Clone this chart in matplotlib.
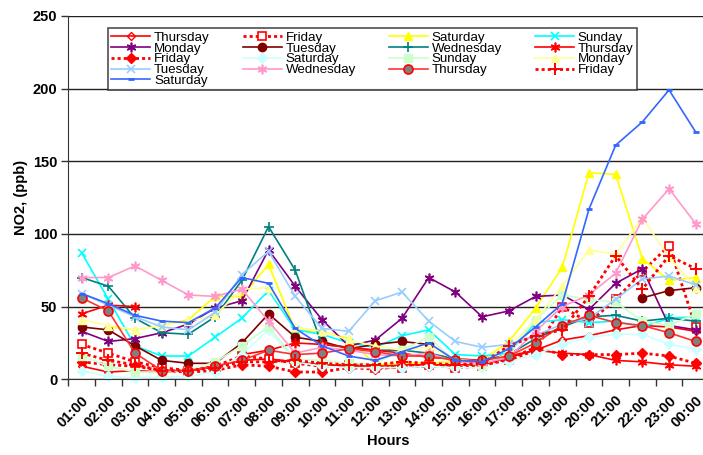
import numpy as np
import matplotlib
matplotlib.use("Agg")
import matplotlib.pyplot as plt
from matplotlib.ticker import FixedLocator

plt.rcParams['font.family'] = ['Liberation Sans', 'DejaVu Sans']

nan = np.nan
hours = ["01:00", "02:00", "03:00", "04:00", "05:00", "06:00", "07:00", "08:00",
         "09:00", "10:00", "11:00", "12:00", "13:00", "14:00", "15:00", "16:00",
         "17:00", "18:00", "19:00", "20:00", "21:00", "22:00", "23:00", "00:00"]

# hourly NO2 (ppb), one list per day
thu1 = [9, 5, 6, 5, 6, 9, 13, 14, 12, 10, 9, 9, 10, 10, 10, 10, 15, 20, 27, 30, 34, 37, 36, 33]
fri1 = [24, 18, 12, 8, 6, 9, 16, 14, 11, 9, 10, 8, 8, 10, 8, 9, 13, 20, 50, 39, 55, 74, 92, 36]
sat1 = [nan, 36, 34, 37, 41, 57, 57, 79, 34, 33, 28, 10, 11, 11.5, 12, 13, 26, 49, 77, 142, 141, 83, 68, 70]
sun1 = [87, 55, 23, 16, 16, 29, 42, 61, 34, 31, 25, 22, 30, 34, 17, 16, 18, 39, 41, 39, 40, 36, 42, 43]
mon1 = [33, 26, 28, 32, 38, 49, 54, 89, 64, 41, 23, 27, 42, 70, 60, 43, 47, 57, 58, 48, 66, 76, 37, 34]
tue1 = [36, 34, 23, 13, 11, 11, 25, 45, 29, 26, 21, 24, 26, 24, nan, nan, nan, nan, nan, nan, nan, 56, 61, 63]
wed1 = [70, 64, 42, 32, 31, 43, 68, 105, 75, 24, 22, 20, 20, 18, 14, 13, 17, 28, 36, 43, 44, 40, 42, 40]
thu2 = [45, 51, 50, nan, nan, nan, 17, 20, 25, 24, 22, 20, 18, 15, 14, 13, 16, 20, 18, 17, 13, 12, 10, 9]
fri2 = [12, 10, 9, 6, 5, 6, 10, 9, 5, 5, 8, 7, 9, 9, 10, 10, 14, 22, 17, 17, 17, 18, 16, 11]
sat2 = [6, 2, 1, 1.5, 2, 5, 17, 34, 12, 9, 8, 8, 8, 9, 8, 8, 12, 17, 24, 29, 31, 31, 24, 21]
sun2 = [16, 9, 5, 5, 6, 12, 23, 36, 14, 13, 11, 11, 20, 29, 12, 10, 18, 41, 58, 55, 53, 40, 37, 45]
mon2 = [41, 37, 34, 37, 40, 44, 62, 63, 36, 33, 27, 23, 20, 22, 14, 12, 22, 41, 64, 89, 86, 111, 84, 63]
tue2 = [59, 51, 43, 36, 34, 46, 72, 88, 57, 35, 33, 54, 60, 40, 26, 22, 24, 30, 38, 42, 55, 69, 71, 65]
wed2 = [70, 70, 78, 68, 58, 57, 62, 40, 18, 22, 20, 17, 16, 18, 12, 11, 15, 33, 50, 58, 73, 110, 131, 107]
thu3 = [56, 47, 18, 6, 6, 9, 13, 20, 17, 18, 21, 19, 16, 16, 13, 13, 16, 25, 37, 44, 39, 37, 32, 26]
fri3 = [18, 13, 10, 6, 6, 8, 12, 12, 13, 11, 10, 10, 12, 11, 10, 11, 23, 30, 34, 57, 85, 62, 85, 76]
sat3 = [59, 52, 44, 40, 39, 49, 70, 66, 35, 23, 16, 13, 19, 25, 13, 12, 21, 36, 52, 117, 161, 177, 199, 170]

dot = (0, (1.1, 1.1))
star = (6, 2, 0)
series = [
    ("Thursday", thu1, dict(color="#FF0000", marker="D", ms=4, mfc="none", mew=1)),
    ("Friday", fri1, dict(color="#FF0000", ls=dot, lw=2, marker="s", ms=6, mfc="white", mew=1.2)),
    ("Saturday", sat1, dict(color="#FFFF00", marker="^", ms=6)),
    ("Sunday", sun1, dict(color="#00FFFF", marker="x", ms=6, mew=1.2)),
    ("Monday", mon1, dict(color="#800080", marker=star, ms=7, mew=1.2)),
    ("Tuesday", tue1, dict(color="#800000", marker="o", ms=6)),
    ("Wednesday", wed1, dict(color="#008080", marker="+", ms=7, mew=1.2)),
    ("Thursday", thu2, dict(color="#FF0000", marker=star, ms=7, mew=1.2)),
    ("Friday", fri2, dict(color="#FF0000", ls=dot, lw=2, marker="D", ms=5)),
    ("Saturday", sat2, dict(color="#CCFFFF", marker="D", ms=5)),
    ("Sunday", sun2, dict(color="#CCFFCC", marker="s", ms=6)),
    ("Monday", mon2, dict(color="#FFFF99", marker="^", ms=6)),
    ("Tuesday", tue2, dict(color="#99CCFF", marker="x", ms=6, mew=1.2)),
    ("Wednesday", wed2, dict(color="#FF99CC", marker=star, ms=7, mew=1.2)),
    ("Thursday", thu3, dict(color="#FF3333", marker="o", ms=6.5, mfc="#808080", mec="#FF0000", mew=1.2)),
    ("Friday", fri3, dict(color="#FF0000", ls=dot, lw=2, marker="+", ms=9, mew=1.4)),
    ("Saturday", sat3, dict(color="#3366FF", marker="_", ms=4, mew=2)),
]

W, H = 703, 455
fig = plt.figure(figsize=(W / 100, H / 100), dpi=100)
ax = fig.add_axes([68.3 / W, 75.7 / H, 640.8 / W, 363.5 / H])

x = np.arange(len(hours))
handles = []
for name, vals, kw in series:
    kw = dict(kw)
    kw.setdefault("lw", 1.2)
    ln, = ax.plot(x, vals, label=name, clip_on=False, **kw)
    handles.append(ln)

ax.set_xlim(-0.5, 23.5)
ax.set_ylim(0, 250)
ax.set_yticks(range(0, 251, 50))
ax.yaxis.grid(True, color="#222222", lw=1)
ax.set_axisbelow(True)
for s in ("top", "right"):
    ax.spines[s].set_visible(False)
ax.spines["left"].set_color("#333333")
ax.spines["bottom"].set_color("#333333")

# labels sit at the hour centres, tick marks between them
ax.set_xticks(x)
ax.set_xticklabels(hours, rotation=45, ha="right", va="top", rotation_mode="anchor",
                   fontsize=10.5, fontweight="bold")
ax.xaxis.set_minor_locator(FixedLocator(np.arange(-0.5, 24, 1)))
ax.tick_params(axis="x", which="major", length=0, pad=10)
ax.tick_params(axis="x", which="minor", length=5, width=1, color="#333333")
ax.tick_params(axis="y", length=5, width=1, color="#333333", labelsize=10.5, pad=3)
for t in ax.get_yticklabels():
    t.set_fontweight("bold")

ax.set_xlabel("Hours", fontsize=10.5, fontweight="bold", labelpad=3)
ax.set_ylabel("NO2, (ppb)", fontsize=10.5, fontweight="bold", labelpad=3)

# legend fills row by row, matplotlib fills by column
order = [0, 4, 8, 12, 16, 1, 5, 9, 13, 2, 6, 10, 14, 3, 7, 11, 15]
leg = fig.legend([handles[i] for i in order], [handles[i].get_label() for i in order],
                 ncol=4, loc="upper left", mode="expand",
                 bbox_to_anchor=(108 / W, 1 - 91 / H, (637 - 108) / W, 63 / H),
                 fontsize=9.6, numpoints=1,
                 handlelength=2.9, handletextpad=0.3, labelspacing=-0.11,
                 borderpad=0.25, borderaxespad=0, frameon=True, fancybox=False)
leg.get_frame().set_edgecolor("#222222")
leg.get_frame().set_linewidth(1.2)

fig.savefig("out.png", dpi=100)
